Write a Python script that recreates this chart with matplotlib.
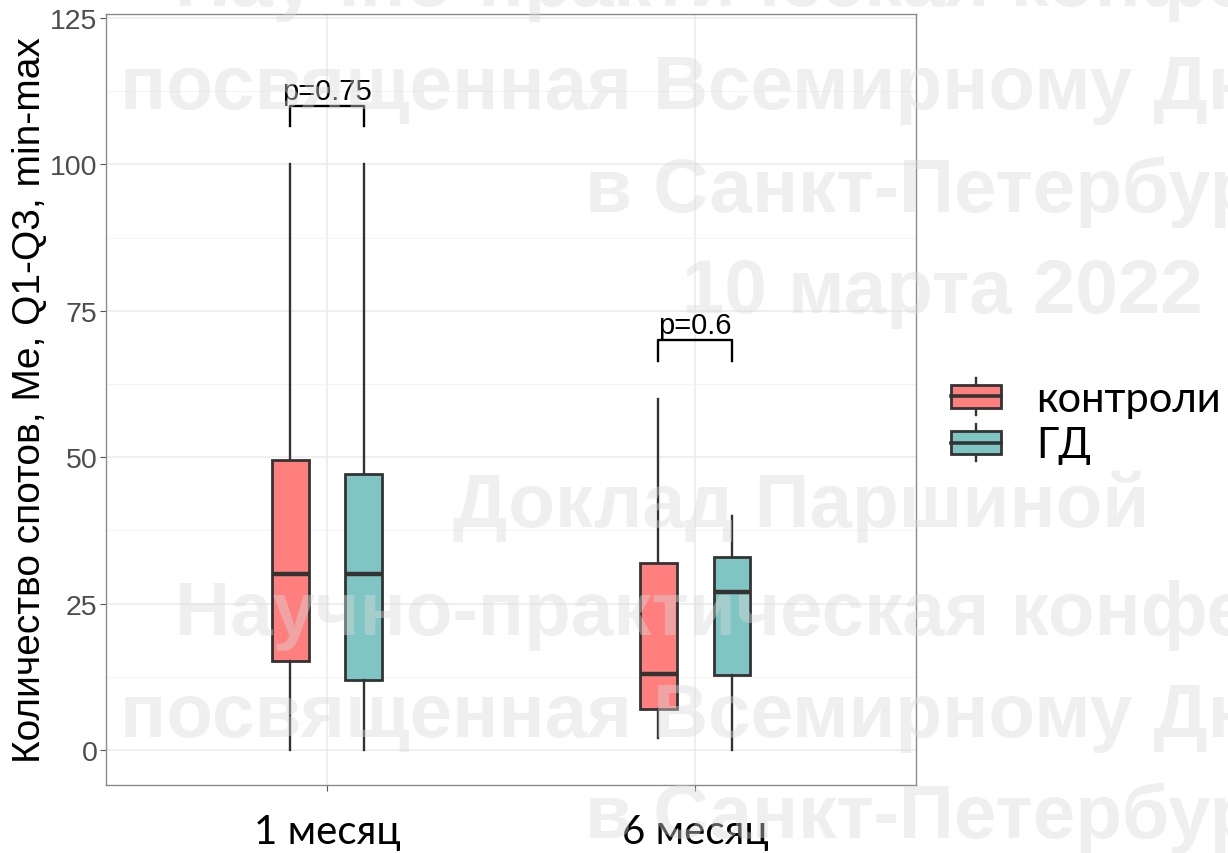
import matplotlib
matplotlib.use("Agg")
import matplotlib.pyplot as plt
from matplotlib.legend_handler import HandlerBase
from matplotlib.patches import Rectangle, Patch
from matplotlib.lines import Line2D

# data
groups = ["1 месяц", "6 месяц"]
series = ["контроли", "ГД"]
colors = ["#FF7F7F", "#7FC5C3"]

ctrl_min = [0, 2]
ctrl_q1 = [15.2, 7]
ctrl_med = [30, 13]
ctrl_q3 = [49.5, 32]
ctrl_max = [100, 60]

gd_min = [0, 0]
gd_q1 = [12, 12.8]
gd_med = [30, 27]
gd_q3 = [47.2, 33]
gd_max = [100, 40]

p_labels = ["p=0.75", "p=0.6"]
p_heights = [110, 70]

watermark = [
    ("Научно-практическая конференция,", 175, 6),
    ("посвященная Всемирному Дню почки", 120, 109),
    ("в Санкт-Петербурге", 585, 212),
    ("10 марта 2022", 682, 313),
    ("Доклад Паршиной", 453, 527),
    ("Научно-практическая конференция,", 175, 635),
    ("посвященная Всемирному Дню почки", 120, 737),
    ("в Санкт-Петербурге", 585, 838),
]

W, H = 1228, 854
EDGE = "#333333"


class BoxHandler(HandlerBase):
    def create_artists(self, legend, orig_handle, xdescent, ydescent,
                       width, height, fontsize, trans):
        cx = width / 2 - xdescent
        cy = height / 2 - ydescent
        bh = 16.5
        wh = 13.5
        whisk = Line2D([cx, cx], [cy - wh, cy + wh], color=EDGE, lw=1.7,
                       transform=trans)
        rect = Rectangle((-xdescent, cy - bh / 2), width, bh,
                         facecolor=orig_handle.get_facecolor(),
                         edgecolor=EDGE, lw=2.0, transform=trans)
        med = Line2D([-xdescent, width - xdescent], [cy, cy], color=EDGE,
                     lw=2.6, transform=trans)
        return [whisk, rect, med]


fig = plt.figure(figsize=(W / 100, H / 100), dpi=100)
ax = fig.add_axes([106 / W, 1 - 786 / H, (916 - 106) / W, (786 - 15) / H])

positions = [1, 2]
offset = 0.1
all_stats = [
    (ctrl_min, ctrl_q1, ctrl_med, ctrl_q3, ctrl_max),
    (gd_min, gd_q1, gd_med, gd_q3, gd_max),
]
for k, (lo, q1, med, q3, hi) in enumerate(all_stats):
    stats = []
    for i in range(len(groups)):
        stats.append({"whislo": lo[i], "q1": q1[i], "med": med[i],
                      "q3": q3[i], "whishi": hi[i], "fliers": []})
    pos = [p + (offset if k == 1 else -offset) for p in positions]
    ax.bxp(stats, positions=pos, widths=0.1, patch_artist=True,
           showcaps=False, showfliers=False, manage_ticks=False,
           boxprops=dict(facecolor=colors[k], edgecolor=EDGE, lw=2.0),
           whiskerprops=dict(color=EDGE, lw=1.7),
           medianprops=dict(color=EDGE, lw=3.2, solid_capstyle="butt"),
           zorder=3)

# significance brackets
for i, p in enumerate(positions):
    y = p_heights[i]
    ax.plot([p - offset, p - offset, p + offset, p + offset],
            [y - 3.5, y, y, y - 3.5], color="black", lw=1.7, zorder=4)
    ax.text(p, y + 1.2, p_labels[i], ha="center", va="baseline",
            fontsize=21, family="Liberation Sans", color="black", zorder=4)

ax.set_xlim(0.4, 2.6)
ax.set_ylim(-6, 125.7)
ax.set_yticks([0, 25, 50, 75, 100, 125])
ax.set_yticks([12.5, 37.5, 62.5, 87.5, 112.5], minor=True)
ax.set_xticks(positions)
ax.set_xticklabels(groups, family=["Lato", "Open Sans"], fontsize=29,
                   color="black")
ax.tick_params(axis="y", which="major", labelsize=20.5, labelcolor="#4D4D4D",
               length=4, width=0.8, color="#555555", pad=2)
ax.tick_params(axis="y", which="minor", length=0)
ax.tick_params(axis="x", length=4, width=0.8, color="#555555", pad=16)
for lab in ax.get_yticklabels():
    lab.set_family("Liberation Sans")

ax.grid(True, which="major", color="#EBEBEB", lw=1.1, zorder=0)
ax.grid(True, which="minor", axis="y", color="#F2F2F2", lw=0.6, zorder=0)
ax.set_axisbelow(True)
for s in ax.spines.values():
    s.set_color("#8C8C8C")
    s.set_linewidth(1.0)

fig.text(30 / W, 1 - 400 / H, "Количество спотов, Me, Q1-Q3, min-max",
         rotation=90, ha="center", va="center", fontsize=28,
         family="Liberation Sans", color="black")

handles = [Patch(facecolor=c) for c in colors]
leg = ax.legend(handles, series, handler_map={Patch: BoxHandler()},
                loc="center left", bbox_to_anchor=(951 / W, 1 - 423 / H),
                bbox_transform=fig.transFigure, frameon=False,
                prop={"family": ["Lato", "Open Sans"], "size": 30},
                handlelength=1.2, handleheight=0.7, handletextpad=0.85,
                labelspacing=0.2, borderpad=0, borderaxespad=0)

# light watermark laid over the chart
for txt, x, y in watermark:
    fig.text(x / W, 1 - y / H, txt, ha="left", va="baseline", fontsize=55,
             fontweight="bold", family="Liberation Sans", color="#DADADA",
             alpha=0.41, zorder=10)

fig.savefig("out.png", dpi=100)
